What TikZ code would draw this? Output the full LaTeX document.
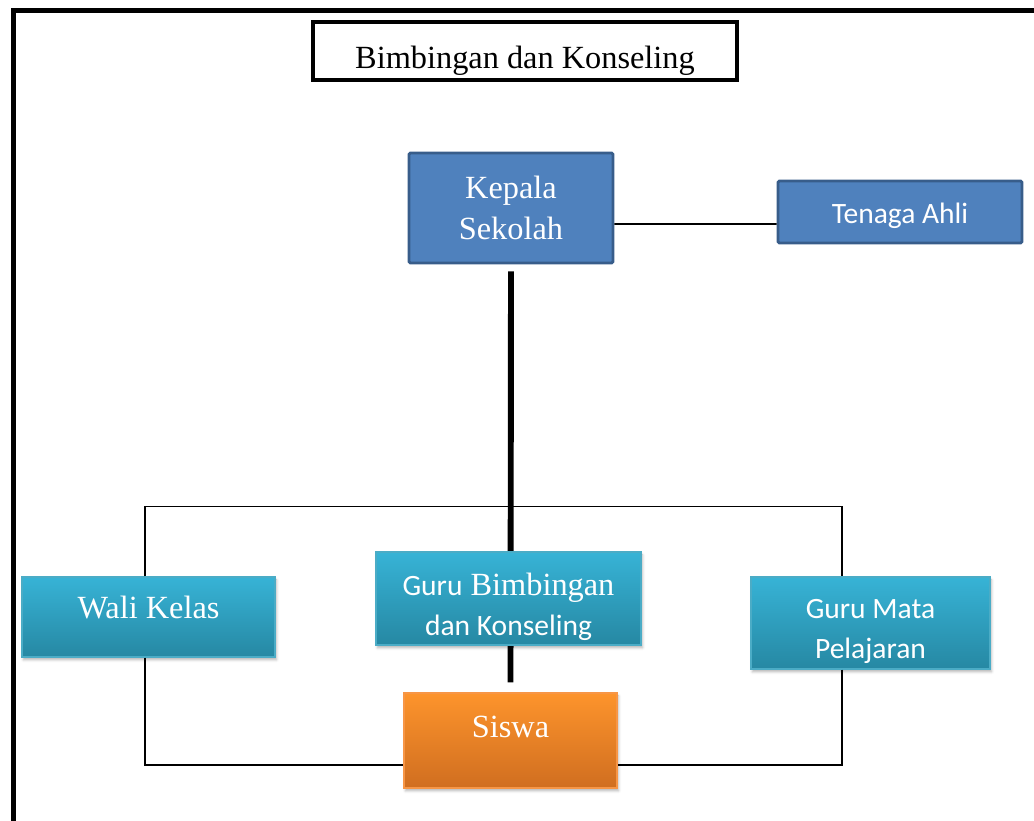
\documentclass[tikz,border=0pt]{standalone}
\usepackage{fontspec}
\setmainfont{Liberation Serif}
\newfontfamily\calibri{Carlito}
\usepackage{tikz}
\usetikzlibrary{shadows.blur}
\definecolor{headblue}{RGB}{79,129,189}
\definecolor{headline}{RGB}{56,93,138}
\definecolor{cyantop}{RGB}{55,179,214}
\definecolor{cyanbot}{RGB}{38,136,163}
\definecolor{cyanline}{RGB}{75,172,198}
\definecolor{orangetop}{RGB}{253,148,44}
\definecolor{orangebot}{RGB}{208,110,32}
\definecolor{orangeline}{RGB}{247,150,70}
% shift text without changing the box that the node centres
\newcommand{\shifted}[2]{\raisebox{#1}[\height][\depth]{#2}}
\newcommand{\lines}[2]{\shifted{#1}{\begin{tabular}{@{}c@{}}#2\end{tabular}}}
\tikzset{
  titlebox/.style={rectangle, draw=black, line width=2.8pt, fill=white,
                   minimum width=10.6cm, minimum height=1.45cm, inner sep=0pt,
                   font=\fontsize{23}{29}\selectfont},
  kepalabox/.style={rectangle, rounded corners=1pt, draw=headline, line width=2pt,
                    fill=headblue, text=white, align=center, inner sep=0pt,
                    font=\fontsize{23}{29}\selectfont},
  cyanbox/.style={rectangle, draw=cyanline, line width=0.8pt,
                  top color=cyantop, bottom color=cyanbot, text=white,
                  align=center, inner sep=0pt, font=\fontsize{23}{28}\selectfont,
                  blur shadow={shadow xshift=1pt, shadow yshift=-2pt, shadow opacity=30}},
  siswabox/.style={cyanbox, draw=orangeline, top color=orangetop, bottom color=orangebot},
  conn/.style={draw=black, line width=1.3pt},
  spine/.style={draw=black, line width=4.2pt},
}
\begin{document}
\begin{tikzpicture}[x=0.025cm, y=-0.025cm]
  \useasboundingbox (0,0) rectangle (1034,821);
  % outer frame (cut at right and bottom)
  \draw[line width=3.6pt] (13.5,821) -- (13.5,10.5) -- (1034,10.5);

  \node[titlebox] (title) at (525,51) {\shifted{-7pt}{Bimbingan dan Konseling}};

  \node[kepalabox, minimum width=5.1cm, minimum height=2.75cm] (kepala) at (511,208) {Kepala\\Sekolah};
  \node[kepalabox, minimum width=6.1cm, minimum height=1.55cm, font=\calibri\fontsize{21}{26}\selectfont] (tenaga) at (900,212) {\shifted{-2.8pt}{Tenaga Ahli}};
  \draw[conn] ([yshift=-0.4cm]kepala.east) -- ([yshift=-0.3cm]tenaga.west);

  \node[siswabox, minimum width=5.325cm, minimum height=2.375cm] (siswa) at (510.5,740.5) {\shifted{9.5pt}{Siswa}};

  % spine behind the counsellor box
  \draw[spine] ([yshift=-0.175cm]kepala.south) -- ([yshift=0.25cm]siswa.north);

  \node[cyanbox, minimum width=6.325cm, minimum height=2cm] (wali) at (148.5,617) {\shifted{6.5pt}{Wali Kelas}};
  \node[cyanbox, minimum width=6.625cm, minimum height=2.325cm] (gbk) at (508.5,598.5)
    {\lines{-6.5pt}{{\calibri\fontsize{21}{28}\selectfont Guru} Bimbingan\\{\calibri\fontsize{21}{28}\selectfont dan Konseling}}};
  \node[cyanbox, minimum width=5.975cm, minimum height=2.3cm, font=\calibri\fontsize{21}{28.5}\selectfont] (gmp) at (870.5,623)
    {\lines{-5.3pt}{Guru Mata\\Pelajaran}};

  \draw[conn] ([xshift=-0.09cm]wali.north) -- ++(0,-70) -| ([xshift=-0.7125cm]gmp.north);
  \draw[conn] ([xshift=-0.09cm]wali.south) |- ([yshift=-0.6125cm]siswa.west);
  \draw[conn] ([xshift=-0.7125cm]gmp.south) |- ([yshift=-0.6125cm]siswa.east);
\end{tikzpicture}
\end{document}
